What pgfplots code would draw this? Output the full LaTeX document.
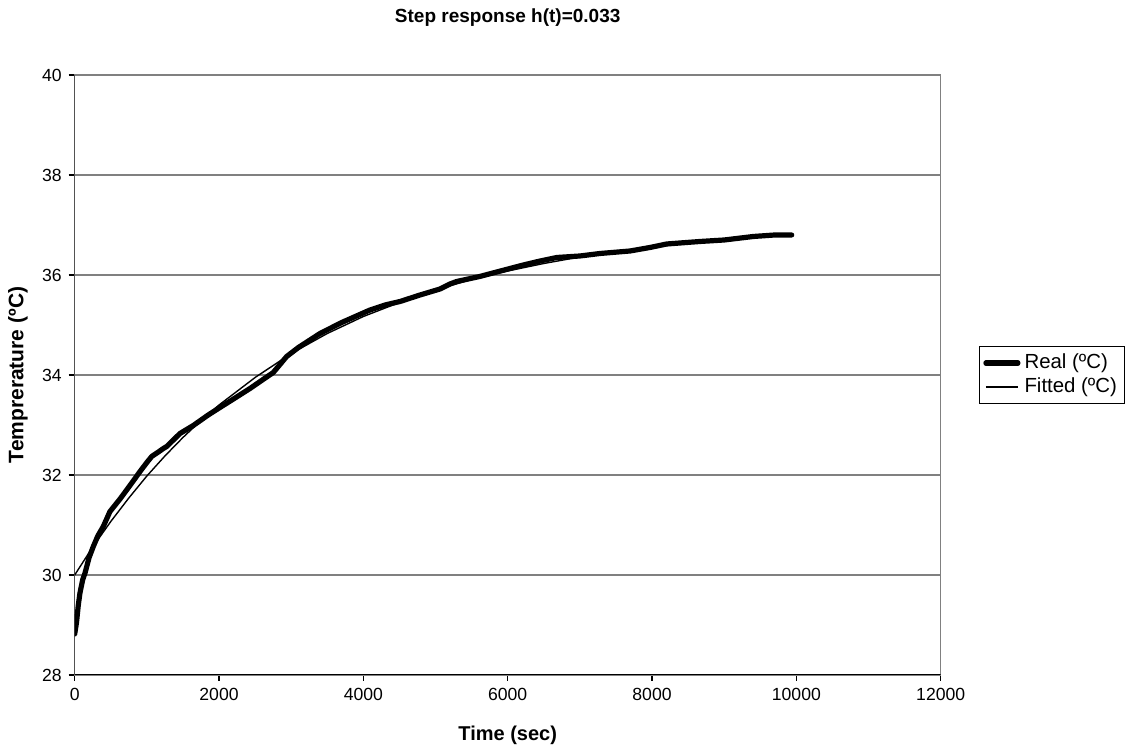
\documentclass[border=0pt]{standalone}
\usepackage{fontspec}
\setmainfont{Liberation Sans}
\usepackage{pgfplots}
\pgfplotsset{compat=1.18}
\definecolor{gridgray}{RGB}{128,128,128}
\begin{document}
\begin{tikzpicture}
\path[use as bounding box] (-37.35pt,-36pt) rectangle (529.65pt,337.5pt);
\begin{axis}[
    at={(0,0)}, anchor=south west,
    width=433pt, height=300pt, scale only axis,
    xmin=0, xmax=12000, ymin=28, ymax=40,
    xtick={0,2000,...,12000}, ytick={28,30,...,40},
    scaled x ticks=false,
    xticklabel style={/pgf/number format/1000 sep={}},
    /pgf/number format/assume math mode=true,
    tick label style={font=\fontsize{8.8}{10}\selectfont},
    ymajorgrids, grid style={gridgray, line width=0.7pt},
    axis line style={gridgray, line width=0.7pt},
    xtick pos=bottom, ytick pos=left, tick align=outside,
    major tick length=3pt, tick style={black, line width=0.6pt},
    title={Step response h(t)=0.033},
    title style={at={(axis description cs:0.5,1.075)}, anchor=center,
                 font=\bfseries\fontsize{9.5}{11}\selectfont},
    xlabel={Time (sec)},
    xlabel style={at={(axis description cs:0.5,-0.1)}, anchor=center,
                  font=\bfseries\fontsize{10}{12}\selectfont},
    ylabel={Temprerature (ºC)},
    ylabel style={at={(axis description cs:-0.0655,0.5)}, anchor=center,
                  font=\bfseries\fontsize{10.5}{12}\selectfont},
    legend style={at={(axis description cs:1.044,0.5)}, anchor=west,
                  draw=black, line width=0.5pt, inner xsep=2pt, inner ysep=2pt,
                  font=\fontsize{10.2}{12}\selectfont, row sep=-1pt},
    legend cell align=left,
    legend image code/.code={\draw[#1] (0pt,0pt) -- (16pt,0pt);},
]
  % measured temperature
  \addplot[black, line width=2.6pt, line join=round, line cap=round] coordinates {
    (0,28.82) (25,29.05) (50,29.4) (73,29.64) (110,29.9) (143,30.04)
    (200,30.35) (258,30.57) (320,30.78) (396,30.97) (489,31.27) (628,31.52)
    (720,31.70) (836,31.93) (905,32.07) (1000,32.25) (1067,32.37) (1150,32.45)
    (1228,32.53) (1275,32.57) (1459,32.83) (1643,32.99) (1850,33.2) (2013,33.35)
    (2200,33.52) (2429,33.73) (2600,33.9) (2752,34.05) (2850,34.22) (2937,34.37)
    (3100,34.55) (3399,34.83) (3700,35.05) (4092,35.3) (4300,35.4) (4508,35.47)
    (4785,35.6) (5062,35.72) (5200,35.82) (5293,35.87) (5612,35.97) (5900,36.08)
    (6216,36.2) (6450,36.28) (6681,36.35) (7000,36.38) (7279,36.43) (7695,36.48)
    (7971,36.55) (8203,36.62) (8664,36.67) (9000,36.7) (9403,36.77) (9700,36.8)
    (9935,36.8)
  };
  % first order fit
  \addplot[black, line width=0.7pt] coordinates {
    (0,30.00) (250,30.56) (500,31.07) (750,31.54) (1000,31.98) (1250,32.38)
    (1500,32.75) (1750,33.09) (2000,33.40) (2500,33.95) (3000,34.43)
    (3500,34.83) (4000,35.17) (4500,35.45) (5000,35.70) (5500,35.91)
    (6000,36.08) (6500,36.23) (7000,36.36) (7500,36.47) (8000,36.56)
    (8500,36.63) (9000,36.70) (9500,36.76) (9933,36.80)
  };
  \legend{Real (ºC), Fitted (ºC)}
  \draw[black, line width=0.7pt] (rel axis cs:0,1) -- (rel axis cs:0,0) -- (rel axis cs:1,0);
\end{axis}
\end{tikzpicture}
\end{document}
